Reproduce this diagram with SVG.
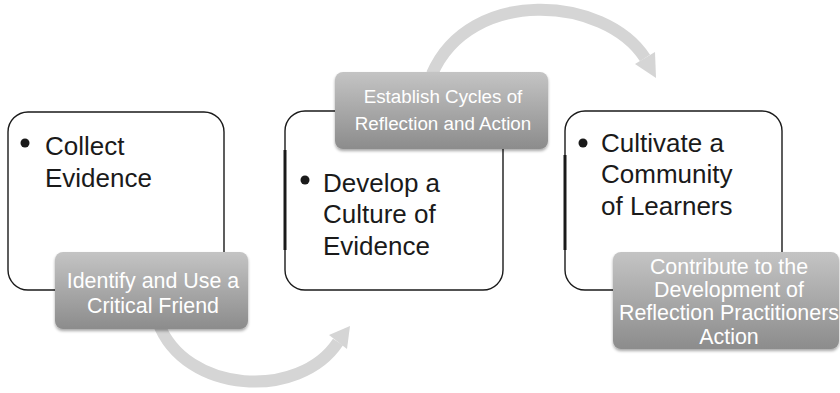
<svg xmlns="http://www.w3.org/2000/svg" width="840" height="393" viewBox="0 0 840 393">
<defs>
<linearGradient id="lg" x1="0" y1="0" x2="0" y2="1">
<stop offset="0" stop-color="#c4c4c4"/>
<stop offset="1" stop-color="#8c8c8c"/>
</linearGradient>
<filter id="sh" x="-10%" y="-10%" width="120%" height="130%">
<feGaussianBlur in="SourceAlpha" stdDeviation="1.5"/>
<feOffset dx="0" dy="2" result="b"/>
<feComponentTransfer><feFuncA type="linear" slope="0.35"/></feComponentTransfer>
<feMerge><feMergeNode/><feMergeNode in="SourceGraphic"/></feMerge>
</filter>
</defs>
<style>
.box{fill:#fff;stroke:#1a1a1a;stroke-width:1.4}
.lab{fill:url(#lg);filter:url(#sh)}
.bt{font-family:"Liberation Sans",Arial,sans-serif;font-size:26px;fill:#1a1a1a}
.lt{font-family:"Liberation Sans",Arial,sans-serif;fill:#fff;text-anchor:middle}
.arr{fill:none;stroke:#d5d5d5;stroke-width:12}
.head{fill:#d5d5d5}
.edge{stroke:#1a1a1a;stroke-width:3}
</style>
<g id="connectors">
<path class="arr" d="M158 322 C185 395 300 400 338 342"/>
<polygon class="head" points="350,326 347,349 329,335"/>
<path class="arr" d="M432 74 C470 -14 605 -4 645 58"/>
<polygon class="head" points="656,78 655,52 635,64"/>
</g>
<g id="node1">
<rect class="box" x="8" y="112" width="216" height="178" rx="20"/>
<circle cx="25" cy="143" r="4.5" fill="#1a1a1a"/>
<text class="bt" x="45" y="155">Collect</text>
<text class="bt" x="45" y="187">Evidence</text>
</g>
<g id="node2">
<rect class="box" x="285" y="111" width="218" height="179" rx="20"/>
<line class="edge" x1="285" y1="150" x2="285" y2="250"/>
<circle cx="305" cy="180" r="4.5" fill="#1a1a1a"/>
<text class="bt" x="323" y="192">Develop a</text>
<text class="bt" x="323" y="223">Culture of</text>
<text class="bt" x="323" y="255">Evidence</text>
</g>
<g id="node3">
<rect class="box" x="565" y="111" width="217" height="179" rx="20"/>
<line class="edge" x1="565" y1="155" x2="565" y2="250"/>
<circle cx="583" cy="143" r="4.5" fill="#1a1a1a"/>
<text class="bt" x="601" y="152">Cultivate a</text>
<text class="bt" x="601" y="183">Community</text>
<text class="bt" x="601" y="215">of Learners</text>
</g>
<g id="label1">
<rect class="lab" x="55" y="252" width="193" height="77" rx="8"/>
<text class="lt" x="153" y="288" font-size="21.4">Identify and Use a</text>
<text class="lt" x="153" y="313" font-size="21.4">Critical Friend</text>
</g>
<g id="label2">
<rect class="lab" x="335" y="72" width="213" height="77" rx="8"/>
<text class="lt" x="443" y="103" font-size="18.8">Establish Cycles of</text>
<text class="lt" x="443" y="130" font-size="18.8">Reflection and Action</text>
</g>
<g id="label3">
<rect class="lab" x="613" y="252" width="226" height="97" rx="8"/>
<text class="lt" x="729" y="274" font-size="21.4">Contribute to the</text>
<text class="lt" x="729" y="297" font-size="21.4">Development of</text>
<text class="lt" x="729" y="320" font-size="21.4">Reflection Practitioners</text>
<text class="lt" x="729" y="344" font-size="21.4">Action</text>
</g>
</svg>
